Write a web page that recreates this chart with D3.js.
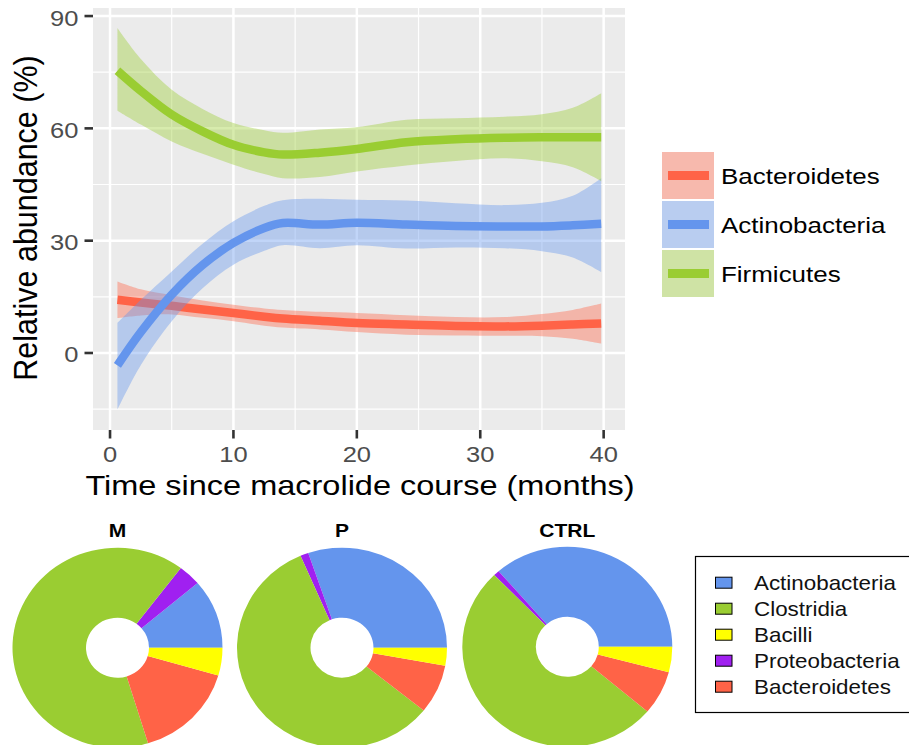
<!DOCTYPE html>
<html>
<head>
<meta charset="utf-8">
<script src="https://cdn.jsdelivr.net/npm/d3@7"></script>
<style>
  html, body { margin: 0; padding: 0; background: #fff; }
  svg { display: block; font-family: "Liberation Sans", Arial, Helvetica, sans-serif; }
</style>
</head>
<body>
<svg id="fig" width="909" height="745"></svg>
<script>
// ---- Smoothed relative abundance over time (fit and 95% band) ----
const months = [0.6, 2.5, 5, 7.5, 10, 12.5, 14, 17, 20, 24, 28, 32, 35, 37.5, 39.8];

const bacteroidetesFit = [14.2, 13.5, 12.6, 11.6, 10.7, 9.7, 9.2, 8.6, 8.0, 7.6, 7.2, 7.1, 7.3, 7.6, 7.9];
const bacteroidetesLo  = [9.3, 10.0, 10.3, 9.4, 8.5, 7.3, 6.8, 6.3, 5.6, 4.9, 4.7, 4.6, 4.5, 3.8, 2.5];
const bacteroidetesHi  = [19.1, 17.0, 15.4, 14.0, 12.9, 11.9, 11.5, 11.0, 10.7, 10.1, 9.6, 9.6, 10.4, 11.5, 13.2];

const actinoFit = [-3.3, 5.6, 15.6, 23.5, 29.4, 33.4, 34.7, 34.3, 34.8, 34.3, 33.9, 33.8, 33.8, 34.1, 34.5];
const actinoLo  = [-15.1, -3.2, 8.5, 17.3, 23.6, 27.3, 28.8, 28.0, 28.8, 27.9, 28.2, 28.0, 27.2, 25.5, 21.6];
const actinoHi  = [8.0, 14.2, 21.8, 29.2, 35.2, 39.3, 40.8, 41.2, 40.9, 40.7, 40.0, 39.5, 40.1, 42.0, 46.7];

const firmicutesFit = [75.4, 70.0, 63.7, 59.2, 55.6, 53.6, 53.0, 53.5, 54.5, 56.3, 57.1, 57.5, 57.6, 57.6, 57.6];
const firmicutesLo  = [64.7, 61.0, 56.5, 53.2, 50.3, 47.8, 46.7, 47.0, 48.5, 50.1, 51.3, 52.0, 51.2, 49.6, 45.9];
const firmicutesHi  = [86.8, 78.5, 70.3, 65.2, 61.4, 59.5, 58.8, 59.7, 60.3, 62.3, 62.7, 63.1, 63.8, 65.5, 69.4];

const phylumNames = ["Bacteroidetes", "Actinobacteria", "Firmicutes"];
const phylumColors = ["#FF6347", "#6495ED", "#9ACD32"];

const xTicks = [0, 10, 20, 30, 40];
const xMinor = [5, 15, 25, 35];
const yTicks = [0, 30, 60, 90];
const yMinor = [-15, 15, 45, 75];

// ---- Class composition per group (counter-clockwise from 3 o'clock) ----
const pieGroups = ["M", "P", "CTRL"];
const pieSliceOrder = ["Actinobacteria", "Proteobacteria", "Clostridia", "Bacteroidetes", "Bacilli"];
const pieM    = [11.2, 3.5, 65.0, 15.8, 4.5];
const pieP    = [30.2, 1.25, 57.7, 7.9, 2.9];
const pieCTRL = [36.4, 0.9, 51.6, 7.1, 4.1];

const classLegend = ["Actinobacteria", "Clostridia", "Bacilli", "Proteobacteria", "Bacteroidetes"];
const classColors = ["#6495ED", "#9ACD32", "#FFFF00", "#A020F0", "#FF6347"];

// ------------------------------------------------------------------
const svg = d3.select("#fig");

function label(parent, text, x, y, opts = {}) {
  const sx = opts.sx || 1.15;
  const rot = opts.rotate ? ` rotate(${opts.rotate})` : "";
  return parent.append("text")
    .attr("transform", `translate(${x},${y}) scale(${sx},1)${rot}`)
    .attr("text-anchor", opts.anchor || "start")
    .attr("font-size", opts.size || 20)
    .attr("font-weight", opts.weight || "normal")
    .attr("fill", opts.color || "#000")
    .text(text);
}

// Panel geometry
const panel = { left: 93, right: 625, top: 8, bottom: 430 };
const xScale = d3.scaleLinear().domain([-1.38, 41.73]).range([panel.left, panel.right]);
const yScale = d3.scaleLinear().domain([-20.57, 92.15]).range([panel.bottom, panel.top]);

const plotG = svg.append("g");
plotG.append("rect")
  .attr("x", panel.left).attr("y", panel.top)
  .attr("width", panel.right - panel.left).attr("height", panel.bottom - panel.top)
  .attr("fill", "#EBEBEB");

// grid
const grid = plotG.append("g").attr("stroke", "#fff");
grid.selectAll(".ymin").data(yMinor).join("line")
  .attr("x1", panel.left).attr("x2", panel.right)
  .attr("y1", d => yScale(d)).attr("y2", d => yScale(d)).attr("stroke-width", 1.2);
grid.selectAll(".xmin").data(xMinor).join("line")
  .attr("y1", panel.top).attr("y2", panel.bottom)
  .attr("x1", d => xScale(d)).attr("x2", d => xScale(d)).attr("stroke-width", 1.2);
grid.selectAll(".ymaj").data(yTicks).join("line")
  .attr("x1", panel.left).attr("x2", panel.right)
  .attr("y1", d => yScale(d)).attr("y2", d => yScale(d)).attr("stroke-width", 2.5);
grid.selectAll(".xmaj").data(xTicks).join("line")
  .attr("y1", panel.top).attr("y2", panel.bottom)
  .attr("x1", d => xScale(d)).attr("x2", d => xScale(d)).attr("stroke-width", 2.5);

// smooths
const series = [
  { fit: bacteroidetesFit, lo: bacteroidetesLo, hi: bacteroidetesHi },
  { fit: actinoFit, lo: actinoLo, hi: actinoHi },
  { fit: firmicutesFit, lo: firmicutesLo, hi: firmicutesHi }
];
const curve = d3.curveCatmullRom.alpha(0.5);
const area = d3.area().curve(curve)
  .x(d => xScale(d.t)).y0(d => yScale(d.lo)).y1(d => yScale(d.hi));
const line = d3.line().curve(curve).x(d => xScale(d.t)).y(d => yScale(d.v));

svg.append("clipPath").attr("id", "panelClip")
  .append("rect").attr("x", panel.left).attr("y", panel.top)
  .attr("width", panel.right - panel.left).attr("height", panel.bottom - panel.top);

const marks = plotG.append("g").attr("clip-path", "url(#panelClip)");
series.forEach((s, i) => {
  const band = months.map((t, k) => ({ t, lo: s.lo[k], hi: s.hi[k] }));
  const pts = months.map((t, k) => ({ t, v: s.fit[k] }));
  marks.append("path").attr("d", area(band))
    .attr("fill", phylumColors[i]).attr("fill-opacity", 0.4);
  marks.append("path").attr("d", line(pts))
    .attr("fill", "none").attr("stroke", phylumColors[i])
    .attr("stroke-width", 8.5).attr("stroke-linecap", "butt");
});

// axes
const axisCol = "#333333";
const tickG = plotG.append("g").attr("stroke", axisCol).attr("stroke-width", 2.6);
tickG.selectAll(".yt").data(yTicks).join("line")
  .attr("x1", panel.left - 8.5).attr("x2", panel.left)
  .attr("y1", d => yScale(d)).attr("y2", d => yScale(d));
tickG.selectAll(".xt").data(xTicks).join("line")
  .attr("y1", panel.bottom).attr("y2", panel.bottom + 8.5)
  .attr("x1", d => xScale(d)).attr("x2", d => xScale(d));

yTicks.forEach(v => label(plotG, String(v), 78.5, yScale(v) + 9.5,
  { anchor: "end", size: 22, color: "#4D4D4D", sx: 1.16 }));
xTicks.forEach(v => label(plotG, String(v), xScale(v), 461.5,
  { anchor: "middle", size: 22, color: "#4D4D4D", sx: 1.16 }));

label(plotG, "Time since macrolide course (months)", (panel.left + panel.right) / 2 + 1, 495,
  { anchor: "middle", size: 28.5, sx: 1.14 });
label(plotG, "Relative abundance (%)", 36.5, (panel.top + panel.bottom) / 2 - 1,
  { anchor: "middle", size: 30.5, sx: 1.08, rotate: -90 });

// legend for smooths
const lg = svg.append("g");
const keyX = 662, keyW = 52, keyH = 47, keyY0 = 152, keyStep = 49;
phylumNames.forEach((name, i) => {
  const ky = keyY0 + i * keyStep;
  lg.append("rect").attr("x", keyX).attr("y", ky).attr("width", keyW).attr("height", keyH)
    .attr("fill", "#F2F2F2");
  lg.append("rect").attr("x", keyX).attr("y", ky).attr("width", keyW).attr("height", keyH)
    .attr("fill", phylumColors[i]).attr("fill-opacity", 0.4);
  lg.append("line").attr("x1", keyX + 6).attr("x2", keyX + keyW - 5)
    .attr("y1", ky + keyH / 2).attr("y2", ky + keyH / 2)
    .attr("stroke", phylumColors[i]).attr("stroke-width", 9);
  label(lg, name, 721, ky + keyH / 2 + 8.5, { size: 22, sx: 1.18 });
});

// ---- donut charts ----
const pieValues = [pieM, pieP, pieCTRL];
const pieCenters = [[117.5, 647.7], [342, 647.7], [567.3, 646.8]];
const classColor = d3.scaleOrdinal().domain(classLegend).range(classColors);
const R = 100;
const pieLayout = d3.pie().sort(null).value(d => d.v)
  .startAngle(Math.PI / 2).endAngle(Math.PI / 2 - 2 * Math.PI);
const arc = d3.arc().innerRadius(R * 0.3).outerRadius(R);

pieGroups.forEach((g, gi) => {
  const [cx, cy] = pieCenters[gi];
  const data = pieSliceOrder.map((name, k) => ({ name, v: pieValues[gi][k] }));
  const pg = svg.append("g").attr("transform", `translate(${cx},${cy}) scale(1.05,1)`);
  pg.selectAll("path").data(pieLayout(data)).join("path")
    .attr("d", arc)
    .attr("fill", d => classColor(d.data.name));
  label(svg, g, cx, 536.7, { anchor: "middle", size: 18.6, weight: "bold", sx: 1.13 });
});

// class legend box
const cl = svg.append("g");
cl.append("rect").attr("x", 695.5).attr("y", 556.5).attr("width", 230).attr("height", 156)
  .attr("fill", "#fff").attr("stroke", "#000").attr("stroke-width", 1.2);
classLegend.forEach((name, i) => {
  const cyy = 582.7 + i * 26;
  cl.append("rect").attr("x", 715.5).attr("y", cyy - 5.5).attr("width", 16.5).attr("height", 11)
    .attr("fill", classColors[i]).attr("stroke", "#000").attr("stroke-width", 1);
  label(cl, name, 754, cyy + 7, { size: 20, sx: 1.12, color: "#111" });
});
</script>
</body>
</html>
